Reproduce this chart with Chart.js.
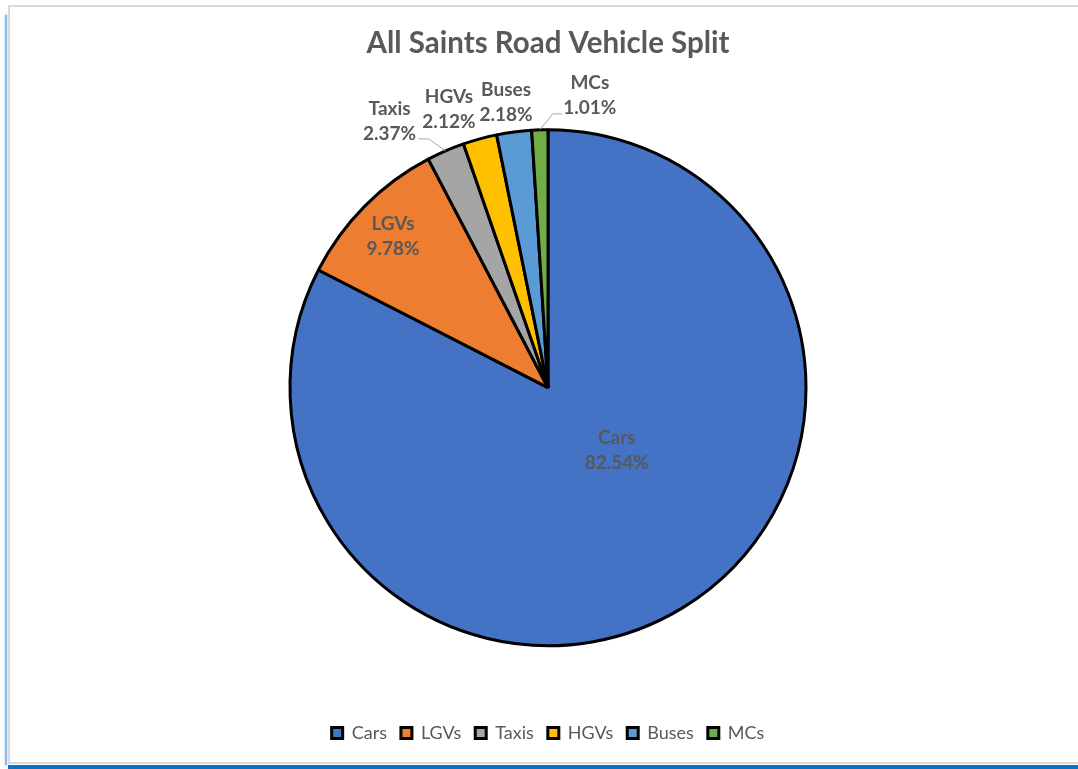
<!DOCTYPE html>
<html>
<head>
<meta charset="utf-8">
<title>All Saints Road Vehicle Split</title>
<script src="https://cdn.jsdelivr.net/npm/chart.js@4/dist/chart.umd.min.js"></script>
<style>
    html, body { margin: 0; padding: 0; background: #fff; }
    body { width: 1078px; height: 769px; position: relative; overflow: hidden; }
    #frame { position: absolute; left: 8px; top: 5px; right: -4px; bottom: 5px;
             border-top: 2px solid #d9d9d9; border-left: 2px solid #d9d9d9; border-bottom: 2px solid #d9d9d9; }
    #edge-left { position: absolute; left: 5px; top: 15px; width: 2px; bottom: 4px;
                 background: #8dbbe6; box-shadow: 0 0 3px 1px #d3e5f6; }
    #edge-bottom { position: absolute; left: 8px; right: 0; bottom: 0; height: 4px; background: #0c72c6; }
    #chart { position: absolute; left: 0; top: 0; }
</style>
</head>
<body>
<div id="frame"></div>
<div id="edge-left"></div>
<div id="edge-bottom"></div>
<canvas id="chart" width="1078" height="769"></canvas>

<script>
// Dados
const categories = ['Cars', 'LGVs', 'Taxis', 'HGVs', 'Buses', 'MCs'];
const shares = [82.54, 9.78, 2.37, 2.12, 2.18, 1.01];
const sliceColors = ['#4472c4', '#ed7d31', '#a5a5a5', '#ffc000', '#5b9bd5', '#70ad47'];

const textGrey = '#595959';
const fontFamily = 'Lato, Carlito, "Open Sans", sans-serif';

// posição dos rótulos: fração do raio no ângulo médio + deslocamento em px
const labelPlacement = [
    { f: 0.355, dx: 21, dy: -15 },
    { f: 0.846, dx: 0, dy: 2 },
    { f: 1, dx: -56, dy: -30, leader: [[39, 18], [29, 18]] },
    { f: 1, dx: -31, dy: -29 },
    { f: 1, dx: -8, dy: -30 },
    { f: 1, dx: 50, dy: -34, leader: [[-37, 18], [-28, 18]] }
];

// Plugin simples para os rótulos de dados (nome + percentagem)
const sliceLabels = {
    id: 'sliceLabels',
    afterDatasetsDraw(chart) {
        const ctx = chart.ctx;
        const meta = chart.getDatasetMeta(0);
        ctx.save();
        ctx.font = 'bold 19px ' + fontFamily;
        ctx.fillStyle = textGrey;
        ctx.textAlign = 'center';
        ctx.textBaseline = 'middle';
        meta.data.forEach((arc, i) => {
            const p = labelPlacement[i];
            const mid = (arc.startAngle + arc.endAngle) / 2;
            const r = arc.outerRadius * p.f;
            const ax = arc.x + Math.cos(mid) * r;
            const ay = arc.y + Math.sin(mid) * r;
            const cx = ax + p.dx;
            const cy = ay + p.dy;

            if (p.leader) {
                ctx.beginPath();
                ctx.strokeStyle = '#a6a6a6';
                ctx.lineWidth = 1;
                ctx.moveTo(ax, ay);
                p.leader.forEach(pt => ctx.lineTo(cx + pt[0], cy + pt[1]));
                ctx.stroke();
            }

            ctx.fillText(categories[i], cx, cy - 12.5);
            ctx.fillText(shares[i].toFixed(2) + '%', cx, cy + 12.5);
        });
        ctx.restore();
    }
};

new Chart(document.getElementById('chart'), {
    type: 'pie',
    data: {
        labels: categories,
        datasets: [{
            data: shares,
            backgroundColor: sliceColors,
            borderColor: '#000',
            borderWidth: 3
        }]
    },
    options: {
        responsive: false,
        animation: false,
        radius: 258,
        layout: { padding: { left: 18, right: 0, top: 0, bottom: 17 } },
        plugins: {
            title: {
                display: true,
                text: 'All Saints Road Vehicle Split',
                color: textGrey,
                font: { family: fontFamily, size: 29.5, weight: 'bold' },
                padding: { top: 26, bottom: 4 }
            },
            legend: {
                position: 'bottom',
                labels: {
                    color: textGrey,
                    font: { family: fontFamily, size: 18 },
                    boxWidth: 11,
                    boxHeight: 11,
                    padding: 14
                }
            },
            tooltip: { enabled: false }
        }
    },
    plugins: [sliceLabels]
});
</script>
</body>
</html>
